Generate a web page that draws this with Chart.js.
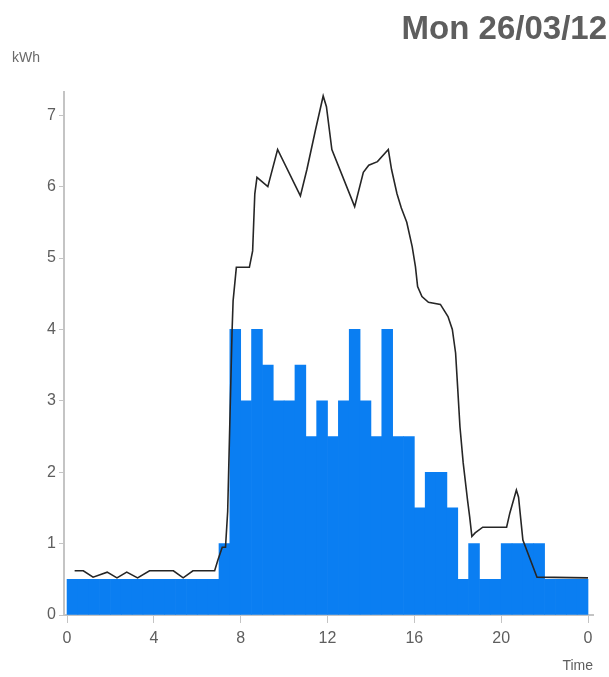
<!DOCTYPE html>
<html>
<head>
<meta charset="utf-8">
<script src="https://cdn.jsdelivr.net/npm/chart.js@4/dist/chart.umd.min.js"></script>
<style>
  html, body { margin: 0; background: #fff; }
</style>
</head>
<body>
<canvas id="grafico" width="609" height="677"></canvas>
<script>
const titulo = 'Mon 26/03/12';
const unidade = 'kWh';
const nomeEixoX = 'Time';
const xTicks = [0, 4, 8, 12, 16, 20, 24];
const yTicks = [0, 1, 2, 3, 4, 5, 6, 7];

// half-hour blocks, kWh
const consumo = [
  0.5, 0.5, 0.5, 0.5, 0.5, 0.5, 0.5, 0.5, 0.5, 0.5, 0.5, 0.5, 0.5, 0.5,
  1, 4, 3, 4, 3.5, 3, 3, 3.5, 2.5, 3, 2.5, 3, 4, 3, 2.5, 4, 2.5, 2.5,
  1.5, 2, 2, 1.5, 0.5, 1, 0.5, 0.5, 1, 1, 1, 1, 0.5, 0.5, 0.5, 0.5
];

// black trace
const linhaHoras = [
  0.35, 0.75, 1.2, 1.85, 2.3, 2.75, 3.25, 3.8, 4.9, 5.35, 5.8, 6.8, 6.95, 7.15,
  7.3, 7.4, 7.6, 7.65, 7.8, 8.4, 8.55, 8.6, 8.65, 8.75, 9.25, 9.7, 10.75, 11.05,
  11.45, 11.8, 11.95, 12.2, 13.25, 13.65, 13.9, 14.3, 14.8, 14.95, 15.2, 15.4,
  15.65, 15.9, 16.05, 16.15, 16.35, 16.65, 17.2, 17.55, 17.75, 17.9, 18.0, 18.1,
  18.25, 18.45, 18.55, 18.65, 18.8, 19.15, 20.25, 20.4, 20.7, 20.8, 21.0, 21.65, 24.0
];
const linhaValores = [
  0.62, 0.62, 0.53, 0.6, 0.52, 0.6, 0.52, 0.62, 0.62, 0.52, 0.62, 0.62, 0.77, 0.95,
  0.95, 1.45, 3.95, 4.4, 4.87, 4.87, 5.1, 5.5, 5.9, 6.13, 6.0, 6.52, 5.87, 6.24,
  6.8, 7.27, 7.12, 6.52, 5.72, 6.2, 6.3, 6.35, 6.52, 6.24, 5.9, 5.7,
  5.5, 5.16, 4.88, 4.6, 4.46, 4.38, 4.35, 4.18, 4.0, 3.67, 3.16, 2.64,
  2.13, 1.61, 1.37, 1.1, 1.15, 1.23, 1.23, 1.43, 1.75, 1.65, 1.05, 0.53, 0.52
];

const fonte = "'Liberation Sans', Arial, sans-serif";
const cinza = '#5e5e5e';
const cinzaEixo = '#c4c4c4';

const barras = consumo.map((v, i) => ({ x: i * 0.5 + 0.25, y: v }));
const linha = linhaHoras.map((h, i) => ({ x: h, y: linhaValores[i] }));

new Chart(document.getElementById('grafico'), {
  type: 'bar',
  data: {
    datasets: [
      {
        type: 'line', data: linha, borderColor: '#262626', borderWidth: 1.6,
        pointRadius: 0, tension: 0, fill: false, order: 0
      },
      {
        type: 'bar', data: barras, backgroundColor: '#0a7ef2', borderWidth: 0,
        barPercentage: 1, categoryPercentage: 1, order: 1
      }
    ]
  },
  options: {
    responsive: false,
    animation: false,
    layout: { padding: { left: 12, right: 2, top: 0, bottom: 0 } },
    plugins: {
      legend: { display: false },
      tooltip: { enabled: false },
      title: {
        display: true, text: titulo, align: 'end', color: cinza,
        font: { family: fonte, size: 33, weight: 'bold' },
        padding: { top: 10, bottom: 0 }
      },
      subtitle: {
        display: true, text: unidade, align: 'start', color: '#6a6a6a',
        font: { family: fonte, size: 14 },
        padding: { top: 0, bottom: 26 }
      }
    },
    scales: {
      x: {
        type: 'linear', min: -0.14, max: 24.23, offset: false,
        afterBuildTicks: s => { s.ticks = xTicks.map(v => ({ value: v })); },
        afterFit: s => { s.height = 62; },
        ticks: {
          color: cinza, font: { family: fonte, size: 16 }, padding: 6,
          autoSkip: false, maxRotation: 0,
          callback: v => String(v % 24)
        },
        grid: { drawOnChartArea: false, offset: false, tickLength: 8, color: cinzaEixo },
        border: { display: true, color: cinzaEixo, width: 2 },
        title: {
          display: true, text: nomeEixoX, align: 'end', color: cinza,
          font: { family: fonte, size: 14 }, padding: { top: 4, bottom: 2 }
        }
      },
      y: {
        min: 0, max: 7.32,
        afterBuildTicks: s => { s.ticks = yTicks.map(v => ({ value: v })); },
        afterFit: s => { s.width = 52; },
        ticks: { color: cinza, font: { family: fonte, size: 16 }, padding: 3 },
        grid: { drawOnChartArea: false, tickLength: 5, color: cinzaEixo },
        border: { display: true, color: cinzaEixo, width: 2 }
      },
      folga: {
        type: 'linear', position: 'right', display: true,
        afterFit: s => { s.width = 14; },
        ticks: { display: false },
        grid: { display: false },
        border: { display: false }
      }
    }
  }
});
</script>
</body>
</html>
